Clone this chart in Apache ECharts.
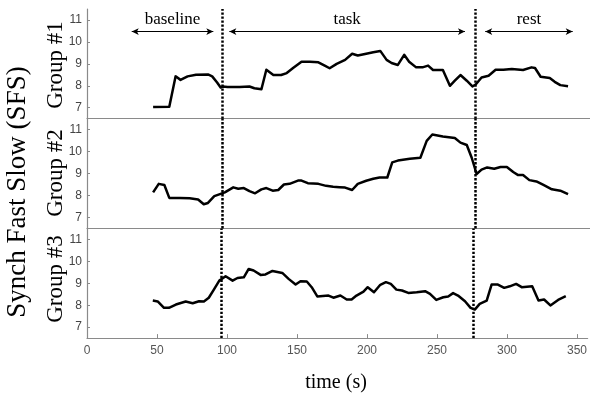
<!DOCTYPE html>
<html>
<head>
<meta charset="utf-8">
<script src="https://cdn.jsdelivr.net/npm/echarts@6/dist/echarts.min.js"></script>
<style>html,body{margin:0;padding:0;background:#fff;}#c{width:590px;height:399px;}</style>
</head>
<body>
<div id="c"></div>
<script>
// ---- data ----
var g1Time = [47,58.5,63,66.5,71.5,77.5,86,89,92.5,95,96.5,100,108.5,115.5,119,124,127.5,132.5,138,142,146.5,152.5,158.5,164.5,169,172.5,177.5,183.5,188.5,192.5,198.5,203.5,208.5,213,216.5,221,225.5,229,234,238.5,242.5,246,253,258,261.5,265.5,270,274,276.5,280.5,285.5,290.5,296,302,310,316,318.5,322.5,329,332.5,336.5,342];
var g1Vals = [7.03,7.05,8.43,8.27,8.43,8.50,8.52,8.43,8.15,7.92,7.97,7.95,7.95,7.97,7.89,7.84,8.73,8.49,8.49,8.58,8.81,9.10,9.10,9.07,8.92,8.80,9.00,9.18,9.46,9.38,9.46,9.53,9.59,9.18,9.04,8.95,9.41,9.10,8.84,8.84,8.92,8.72,8.72,8.00,8.23,8.49,8.23,7.97,8.07,8.38,8.46,8.73,8.73,8.76,8.72,8.84,8.81,8.41,8.35,8.18,8.03,7.98];

var g2Time = [47,51,55,58.5,66,73,79,83,86,90.5,94.5,98,104,107.5,111.5,115.5,119.5,124,127.5,132,136,140,144,150,152.5,157,164.5,170,175,179.5,183.5,188.5,192.5,198.5,203.5,208,213.5,217,221,229.5,237,241.5,245.5,253,261.5,265.5,270,273.5,277,280.5,284.5,289.5,294,298.5,303,306.5,310,314.5,319.5,324.5,330.5,336.5,342];
var g2Vals = [8.14,8.53,8.48,7.89,7.89,7.87,7.82,7.60,7.66,7.97,8.06,8.14,8.37,8.31,8.34,8.20,8.10,8.28,8.34,8.22,8.25,8.50,8.53,8.68,8.68,8.56,8.53,8.44,8.40,8.38,8.36,8.25,8.53,8.67,8.76,8.82,8.82,9.51,9.59,9.67,9.72,10.49,10.78,10.69,10.62,10.41,10.30,9.72,8.98,9.18,9.28,9.22,9.30,9.30,9.07,8.93,8.93,8.70,8.64,8.48,8.28,8.22,8.06];

var g3Time = [47,50.5,55,58.5,63.5,70.5,75.5,80,83.5,87,90.5,94.5,99,104,107.5,112,115.5,119,124,127.5,132.5,139.5,144,149,152.5,157,160.5,164.5,172.5,176,181,185.5,189,192.5,197.5,200.5,205,209.5,213.5,217,221,225,229.5,235.5,241.5,245,249.5,254.5,258,261.5,265,270,274,277,280.5,285.5,289,293.5,298,302,306.5,310.5,318,322.5,326.5,331,336.5,342];
var g3Vals = [8.21,8.17,7.88,7.88,8.03,8.17,8.09,8.18,8.17,8.34,8.70,9.12,9.32,9.12,9.24,9.27,9.65,9.58,9.38,9.40,9.56,9.47,9.20,8.94,9.09,9.08,8.82,8.40,8.44,8.34,8.44,8.26,8.26,8.44,8.62,8.82,8.59,8.93,9.05,8.97,8.71,8.67,8.56,8.59,8.64,8.52,8.24,8.36,8.40,8.55,8.44,8.18,7.88,7.80,8.06,8.21,8.94,8.94,8.79,8.86,8.97,8.82,8.86,8.21,8.26,7.99,8.24,8.41];

var groupNames = ['Group #1','Group #2','Group #3'];
var xTicks = [0,50,100,150,200,250,300,350];
var yTicks = [7,8,9,10,11];
var phaseBounds = [95.8, 276];
var phaseNames = ['baseline','task','rest'];
var phaseStart = [31.8, 101.2, 283.1];
var phaseEnd = [89.8, 268.7, 345.3];
var arrowLevel = 10.47;

// ---- chart ----
function pairs(t, v){ return t.map(function(x,i){ return [x, v[i]]; }); }
var series = [[g1Time,g1Vals],[g2Time,g2Vals],[g3Time,g3Vals]];

var gridTops = [9, 118.7, 228.4];
var gridH = 109.7;
var axisColor = '#8a8a8a';

var grids = [], xAxes = [], yAxes = [], ser = [];
for (var i = 0; i < 3; i++) {
  grids.push({left: 87, width: 503, top: gridTops[i], height: gridH, containLabel: false});
  var bottom = (i === 2);
  xAxes.push({
    type: 'value', gridIndex: i, min: 0, max: 357.6,
    axisLine: {show: true, onZero: false, lineStyle: {color: axisColor, width: 1.2}},
    axisTick: {show: bottom, inside: true, length: 4, customValues: xTicks, lineStyle: {color: axisColor}},
    axisLabel: {show: bottom, customValues: xTicks, color: '#555', fontSize: 12, fontFamily: 'Liberation Sans', margin: 7},
    splitLine: {show: false}
  });
  yAxes.push({
    type: 'value', gridIndex: i, min: 6.5, max: 11.5,
    axisLine: {show: true, onZero: false, lineStyle: {color: axisColor, width: 1.2}},
    axisTick: {show: true, inside: true, length: 3, customValues: yTicks, lineStyle: {color: axisColor}},
    axisLabel: {show: true, customValues: yTicks, color: '#444', fontSize: 12, fontFamily: 'Liberation Sans', margin: 5},
    splitLine: {show: false}
  });
  var mlData = phaseBounds.map(function(b){ return {xAxis: b}; });
  var s = {
    type: 'line', xAxisIndex: i, yAxisIndex: i,
    data: pairs(series[i][0], series[i][1]),
    showSymbol: false, symbol: 'none',
    lineStyle: {color: '#000', width: 2.5, join: 'round'},
    silent: true, animation: false,
    markLine: {
      silent: true, animation: false, symbol: 'none',
      lineStyle: {color: '#000', width: 2.5, type: [2.3, 1.7]},
      label: {show: false},
      data: mlData
    }
  };
  ser.push(s);
}
// phase arrows + labels (panel 1)
var arrowData = phaseNames.map(function(n, k){
  return [
    {coord: [phaseStart[k], arrowLevel], name: n},
    {coord: [phaseEnd[k], arrowLevel]}
  ];
});
ser.push({
  type: 'line', xAxisIndex: 0, yAxisIndex: 0, data: [], silent: true, animation: false,
  markLine: {
    silent: true, animation: false,
    symbol: ['arrow', 'arrow'], symbolSize: [5, 7],
    lineStyle: {color: '#000', width: 1, type: 'solid'},
    label: {show: true, position: 'middle', formatter: '{b}', color: '#000', fontSize: 17, fontFamily: 'Liberation Serif', distance: 4},
    data: arrowData
  }
});

var graphics = [
  {type: 'text', x: 18, y: 192, rotation: Math.PI/2,
   style: {text: 'Synch Fast Slow (SFS)', fill: '#000', font: '27px "Liberation Serif"', textAlign: 'center', textVerticalAlign: 'middle'}},
  {type: 'text', x: 336, y: 383,
   style: {text: 'time (s)', fill: '#000', font: '20px "Liberation Serif"', textAlign: 'center', textVerticalAlign: 'middle'}}
];
var groupY = [65, 173, 279];
groupNames.forEach(function(g, k){
  graphics.push({type: 'text', x: 56, y: groupY[k], rotation: Math.PI/2,
    style: {text: g, fill: '#000', font: '23px "Liberation Serif"', textAlign: 'center', textVerticalAlign: 'middle'}});
});

var chart = echarts.init(document.getElementById('c'), null, {renderer: 'canvas'});
chart.setOption({
  animation: false,
  backgroundColor: '#fff',
  grid: grids, xAxis: xAxes, yAxis: yAxes, series: ser,
  graphic: graphics
});
</script>
</body>
</html>
